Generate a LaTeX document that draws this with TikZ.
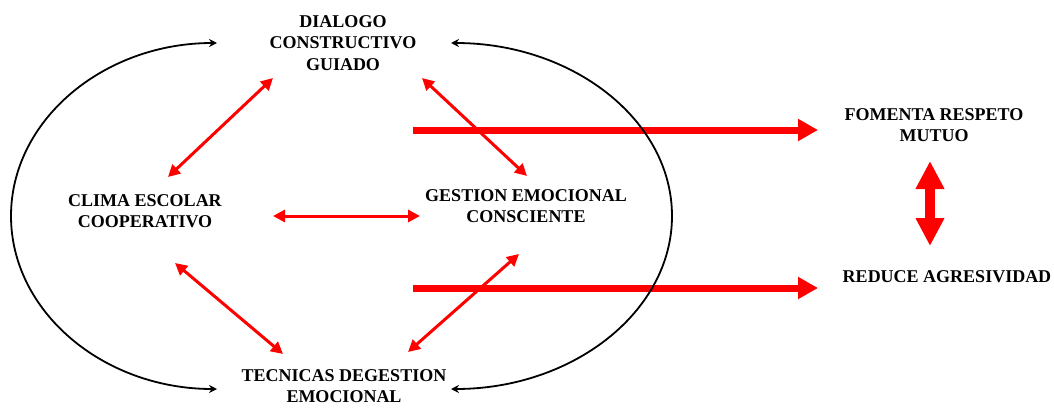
\documentclass[tikz,border=0pt]{standalone}
\usepackage{fontspec}
\setmainfont{Liberation Serif}
\usetikzlibrary{arrows.meta}
\begin{document}
\begin{tikzpicture}[x=0.5pt,y=-0.5pt,
  lbl/.style={font=\bfseries\fontsize{9}{10.75}\selectfont, align=center, inner sep=0pt},
  redthin/.style={draw=red, line width=1.5pt, {Triangle[length=6pt,width=6pt]}-{Triangle[length=6pt,width=6pt]}},
  redthick/.style={draw=red, line width=3.5pt, -{Triangle[length=10pt,width=10.5pt]}},
  redvert/.style={draw=red, line width=5pt, {Triangle[length=14pt,width=13.5pt]}-{Triangle[length=14pt,width=13.5pt]}},
  blackarc/.style={draw=black, line width=0.9pt, {Stealth[length=4pt,width=4pt]}-{Stealth[length=4pt,width=4pt]}}]
\useasboundingbox (0,0) rectangle (1054,407);

\node[lbl] (dialogo) at (343,43) {DIALOGO\\CONSTRUCTIVO\\GUIADO};
\node[lbl] (clima) at (145,211) {CLIMA ESCOLAR\\COOPERATIVO};
\node[lbl] (gestion) at (526,206) {GESTION EMOCIONAL\\CONSCIENTE};
\node[lbl] (tecnicas) at (344,386) {TECNICAS DEGESTION\\EMOCIONAL};
\node[lbl] (fomenta) at (934,125) {FOMENTA RESPETO\\MUTUO};
\node[lbl] (reduce) at (947,277) {REDUCE AGRESIVIDAD};

% connector end points
\coordinate (dc1) at (273,78);  \coordinate (dc2) at (168,177);
\coordinate (dg1) at (422,78);  \coordinate (dg2) at (527,176);
\coordinate (cg1) at (273,216); \coordinate (cg2) at (420,216);
\coordinate (ct1) at (175,263); \coordinate (ct2) at (283,354);
\coordinate (gt1) at (519,254); \coordinate (gt2) at (408,352);
\coordinate (f1) at (413,130);  \coordinate (f2) at (818,130);
\coordinate (r1) at (413,288);  \coordinate (r2) at (818,288);
\coordinate (v1) at (930,161);  \coordinate (v2) at (930,246);
\coordinate (la) at (217,43);
\coordinate (ra) at (451,43);

\draw[redthin] (dc1) -- (dc2);
\draw[redthin] (dg1) -- (dg2);
\draw[redthin] (cg1) -- (cg2);
\draw[redthin] (ct1) -- (ct2);
\draw[redthin] (gt1) -- (gt2);

\draw[redthick] (f1) -- (f2);
\draw[redthick] (r1) -- (r2);
\draw[redvert] (v1) -- (v2);

\draw[blackarc] (la) arc[start angle=270, end angle=90, x radius=206, y radius=173];
\draw[blackarc] (ra) arc[start angle=270, end angle=450, x radius=221, y radius=173];
\end{tikzpicture}
\end{document}
